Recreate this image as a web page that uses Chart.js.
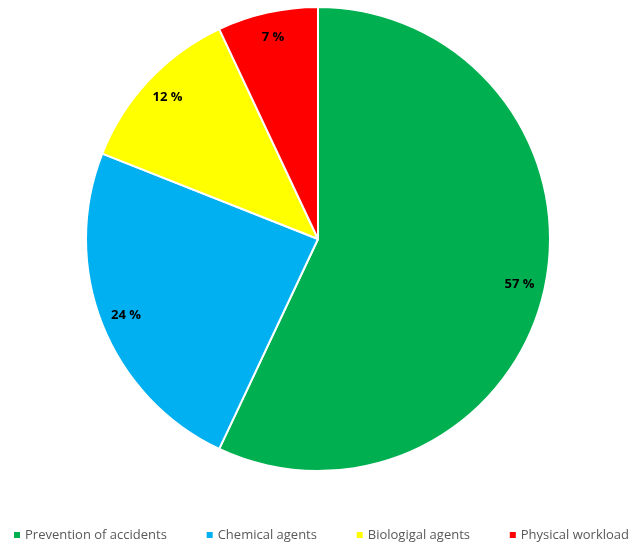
<!DOCTYPE html>
<html>
<head>
<meta charset="utf-8">
<script src="https://cdn.jsdelivr.net/npm/chart.js@4.4.0/dist/chart.umd.min.js"></script>
<style>
  html, body { margin: 0; padding: 0; background: #fff; }
  #wrap { width: 631px; height: 545px; }
</style>
</head>
<body>
<div id="wrap"><canvas id="pie"></canvas></div>
<script>
// chart data
const categories = ["Prevention of accidents", "Chemical agents", "Biologigal agents", "Physical workload"];
const shares = [57, 24, 12, 7];
const sliceColors = ["#00B050", "#00B0F0", "#FFFF00", "#FF0000"];

// draws the "57 %" style labels near the outer edge of each slice
const sliceLabels = {
    id: "sliceLabels",
    afterDatasetsDraw(chart) {
        const ctx = chart.ctx;
        const meta = chart.getDatasetMeta(0);
        ctx.save();
        ctx.font = "bold 13px 'Open Sans', sans-serif";
        ctx.fillStyle = "#000";
        ctx.textAlign = "center";
        ctx.textBaseline = "middle";
        meta.data.forEach((arc, i) => {
            const mid = (arc.startAngle + arc.endAngle) / 2;
            const r = arc.outerRadius * 0.89;
            ctx.fillText(shares[i] + " %", arc.x + Math.cos(mid) * r, arc.y + Math.sin(mid) * r);
        });
        ctx.restore();
    }
};

// one-row legend along the bottom, spread from x=14 to x=630 like the original
const bottomLegend = {
    id: "bottomLegend",
    afterDraw(chart) {
        const ctx = chart.ctx;
        const labels = chart.data.labels;
        const colors = chart.data.datasets[0].backgroundColor;
        const box = 6, boxGap = 5;
        const left = 14, right = 629;
        ctx.save();
        ctx.font = "13px 'Open Sans', sans-serif";
        ctx.textBaseline = "middle";
        const widths = labels.map(l => box + boxGap + ctx.measureText(l).width);
        const sum = widths.reduce((a, b) => a + b, 0);
        const itemGap = (right - left - sum) / (labels.length - 1);
        let x = left;
        const y = 535;
        labels.forEach((l, i) => {
            ctx.fillStyle = colors[i];
            ctx.fillRect(x, y - box / 2, box, box);
            ctx.fillStyle = "#595959";
            ctx.fillText(l, x + box + boxGap, y);
            x += widths[i] + itemGap;
        });
        ctx.restore();
    }
};

new Chart(document.getElementById("pie"), {
    type: "pie",
    data: {
        labels: categories,
        datasets: [{
            data: shares,
            backgroundColor: sliceColors,
            borderColor: "#fff",
            borderWidth: 2
        }]
    },
    options: {
        responsive: true,
        maintainAspectRatio: false,
        animation: false,
        layout: { padding: { top: 6, bottom: 73, left: 5, right: 0 } },
        plugins: {
            legend: { display: false },
            tooltip: { enabled: false }
        }
    },
    plugins: [sliceLabels, bottomLegend]
});
</script>
</body>
</html>
